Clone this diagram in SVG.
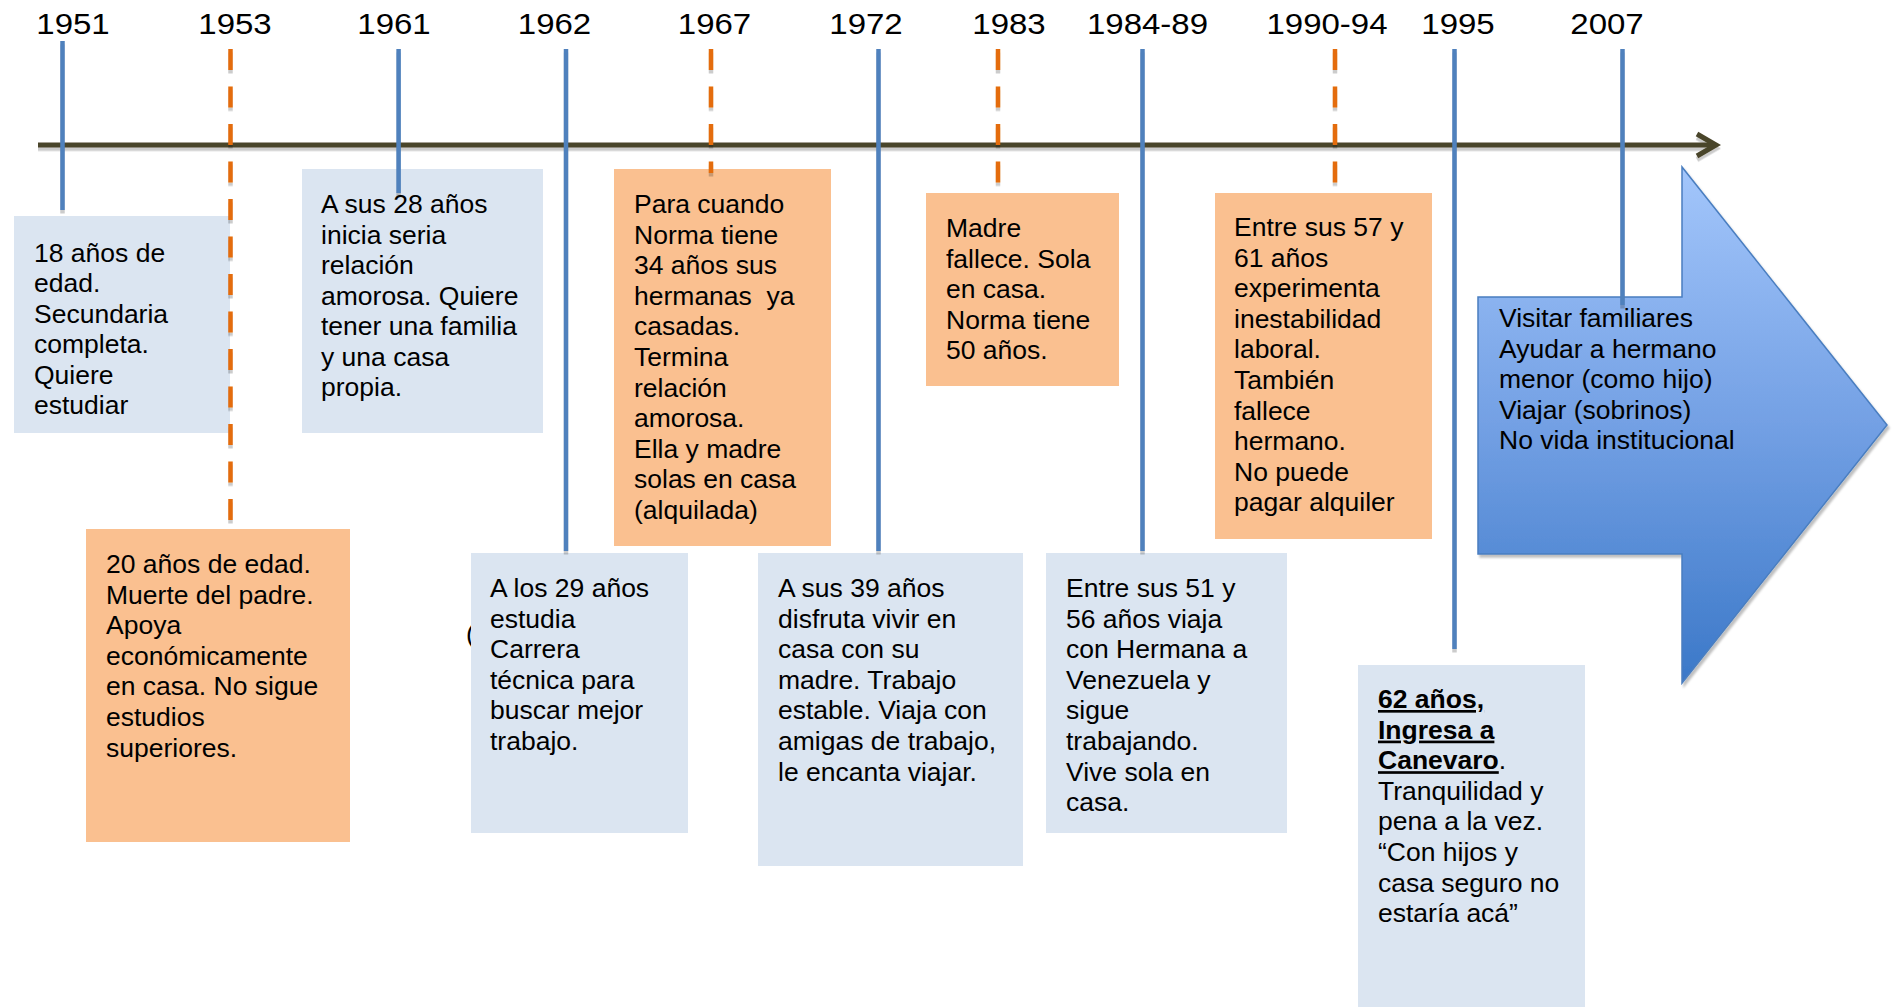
<svg xmlns="http://www.w3.org/2000/svg" width="1892" height="1007" viewBox="0 0 1892 1007">
<style>
.t{font-family:"Liberation Sans",Arial,sans-serif;font-size:26.5px;fill:#000}
.yr{font-family:"Liberation Sans",Arial,sans-serif;font-size:30px;fill:#000;text-anchor:middle}
.bb{fill:#DBE5F1}
.ob{fill:#FAC090}
.vb{stroke:#4F81BD;stroke-width:4.5;fill:none}
.vo{stroke:#E46C0A;stroke-width:4.5;stroke-dasharray:21 16.5;fill:none}
.b{font-weight:bold;text-decoration:underline}
</style>
<defs>
<filter id="sh" filterUnits="userSpaceOnUse" x="0" y="0" width="1892" height="1007">
<feDropShadow dx="0" dy="3.5" stdDeviation="0.6" flood-color="#000" flood-opacity="0.2"/>
</filter>
<filter id="ash" filterUnits="userSpaceOnUse" x="0" y="0" width="1892" height="1007">
<feDropShadow dx="2" dy="3" stdDeviation="1" flood-color="#000" flood-opacity="0.25"/>
</filter>
<linearGradient id="ag" x1="0" y1="167" x2="0" y2="683" gradientUnits="userSpaceOnUse">
<stop offset="0" stop-color="#A3C6FB"/>
<stop offset="0.5" stop-color="#73A0E4"/>
<stop offset="1" stop-color="#3B78C8"/>
</linearGradient>
</defs>
<rect width="1892" height="1007" fill="#fff"/>

<g id="years">
<text class="yr" transform="translate(73,34) scale(1.1,1)">1951</text>
<text class="yr" transform="translate(235,34) scale(1.1,1)">1953</text>
<text class="yr" transform="translate(394,34) scale(1.1,1)">1961</text>
<text class="yr" transform="translate(554.5,34) scale(1.1,1)">1962</text>
<text class="yr" transform="translate(714.5,34) scale(1.1,1)">1967</text>
<text class="yr" transform="translate(866,34) scale(1.1,1)">1972</text>
<text class="yr" transform="translate(1009,34) scale(1.1,1)">1983</text>
<text class="yr" transform="translate(1147.5,34) scale(1.1,1)">1984-89</text>
<text class="yr" transform="translate(1327,34) scale(1.1,1)">1990-94</text>
<text class="yr" transform="translate(1458,34) scale(1.1,1)">1995</text>
<text class="yr" transform="translate(1607,34) scale(1.1,1)">2007</text>
</g>

<g id="axis" filter="url(#sh)">
<line x1="38" y1="145" x2="1714" y2="145" stroke="#4A452A" stroke-width="5"/>
<polyline points="1697,134 1716,145 1697,156" fill="none" stroke="#4A452A" stroke-width="5" stroke-linejoin="miter"/>
</g>

<g id="future">
<polygon points="1478,297 1682,297 1682,167 1887,425 1682,683 1682,554 1478,554" fill="url(#ag)" stroke="#4A7EC0" stroke-width="1.5" filter="url(#ash)"/>
<text class="t"><tspan x="1499" y="327">Visitar familiares</tspan><tspan x="1499" dy="30.6">Ayudar a hermano</tspan><tspan x="1499" dy="30.6">menor (como hijo)</tspan><tspan x="1499" dy="30.6">Viajar (sobrinos)</tspan><tspan x="1499" dy="30.6">No vida institucional</tspan></text>
</g>

<g id="n1951">
<rect class="bb" x="14" y="216" width="216" height="217"/>
<text class="t"><tspan x="34" y="262">18 años de</tspan><tspan x="34" dy="30.4">edad.</tspan><tspan x="34" dy="30.4">Secundaria</tspan><tspan x="34" dy="30.4">completa.</tspan><tspan x="34" dy="30.4">Quiere</tspan><tspan x="34" dy="30.4">estudiar</tspan></text>
</g>

<g id="n1961">
<rect class="bb" x="302" y="169" width="241" height="264"/>
<text class="t"><tspan x="321" y="213">A sus 28 años</tspan><tspan x="321" dy="30.5">inicia seria</tspan><tspan x="321" dy="30.5">relación</tspan><tspan x="321" dy="30.5">amorosa. Quiere</tspan><tspan x="321" dy="30.5">tener una familia</tspan><tspan x="321" dy="30.5">y una casa</tspan><tspan x="321" dy="30.5">propia.</tspan></text>
</g>

<g id="n1953">
<rect class="ob" x="86" y="529" width="264" height="313"/>
<text class="t"><tspan x="106" y="573">20 años de edad.</tspan><tspan x="106" dy="30.6">Muerte del padre.</tspan><tspan x="106" dy="30.6">Apoya</tspan><tspan x="106" dy="30.6">económicamente</tspan><tspan x="106" dy="30.6">en casa. No sigue</tspan><tspan x="106" dy="30.6">estudios</tspan><tspan x="106" dy="30.6">superiores.</tspan></text>
</g>

<g id="n1962">
<text class="t" x="466" y="643">(</text>
<rect class="bb" x="471" y="553" width="217" height="280"/>
<text class="t"><tspan x="490" y="597">A los 29 años</tspan><tspan x="490" dy="30.6">estudia</tspan><tspan x="490" dy="30.6">Carrera</tspan><tspan x="490" dy="30.6">técnica para</tspan><tspan x="490" dy="30.6">buscar mejor</tspan><tspan x="490" dy="30.6">trabajo.</tspan></text>
</g>

<g id="n1967">
<rect class="ob" x="614" y="169" width="217" height="377"/>
<text class="t" xml:space="preserve"><tspan x="634" y="213">Para cuando</tspan><tspan x="634" dy="30.6">Norma tiene</tspan><tspan x="634" dy="30.6">34 años sus</tspan><tspan x="634" dy="30.6">hermanas  ya</tspan><tspan x="634" dy="30.6">casadas.</tspan><tspan x="634" dy="30.6">Termina</tspan><tspan x="634" dy="30.6">relación</tspan><tspan x="634" dy="30.6">amorosa.</tspan><tspan x="634" dy="30.6">Ella y madre</tspan><tspan x="634" dy="30.6">solas en casa</tspan><tspan x="634" dy="30.6">(alquilada)</tspan></text>
</g>

<g id="n1972">
<rect class="bb" x="758" y="553" width="265" height="313"/>
<text class="t"><tspan x="778" y="597">A sus 39 años</tspan><tspan x="778" dy="30.6">disfruta vivir en</tspan><tspan x="778" dy="30.6">casa con su</tspan><tspan x="778" dy="30.6">madre. Trabajo</tspan><tspan x="778" dy="30.6">estable. Viaja con</tspan><tspan x="778" dy="30.6">amigas de trabajo,</tspan><tspan x="778" dy="30.6">le encanta viajar.</tspan></text>
</g>

<g id="n1983">
<rect class="ob" x="926" y="193" width="193" height="193"/>
<text class="t"><tspan x="946" y="237">Madre</tspan><tspan x="946" dy="30.6">fallece. Sola</tspan><tspan x="946" dy="30.6">en casa.</tspan><tspan x="946" dy="30.6">Norma tiene</tspan><tspan x="946" dy="30.6">50 años.</tspan></text>
</g>

<g id="n1984">
<rect class="bb" x="1046" y="553" width="241" height="280"/>
<text class="t"><tspan x="1066" y="597">Entre sus 51 y</tspan><tspan x="1066" dy="30.6">56 años viaja</tspan><tspan x="1066" dy="30.6">con Hermana a</tspan><tspan x="1066" dy="30.6">Venezuela y</tspan><tspan x="1066" dy="30.6">sigue</tspan><tspan x="1066" dy="30.6">trabajando.</tspan><tspan x="1066" dy="30.6">Vive sola en</tspan><tspan x="1066" dy="30.6">casa.</tspan></text>
</g>

<g id="n1990">
<rect class="ob" x="1215" y="193" width="217" height="346"/>
<text class="t"><tspan x="1234" y="236">Entre sus 57 y</tspan><tspan x="1234" dy="30.6">61 años</tspan><tspan x="1234" dy="30.6">experimenta</tspan><tspan x="1234" dy="30.6">inestabilidad</tspan><tspan x="1234" dy="30.6">laboral.</tspan><tspan x="1234" dy="30.6">También</tspan><tspan x="1234" dy="30.6">fallece</tspan><tspan x="1234" dy="30.6">hermano.</tspan><tspan x="1234" dy="30.6">No puede</tspan><tspan x="1234" dy="30.6">pagar alquiler</tspan></text>
</g>

<g id="n1995">
<rect class="bb" x="1358" y="665" width="227" height="342"/>
<text class="t"><tspan x="1378" y="708" class="b">62 años,</tspan><tspan x="1378" dy="30.6" class="b">Ingresa a</tspan><tspan x="1378" dy="30.6" class="b">Canevaro</tspan><tspan>.</tspan><tspan x="1378" dy="30.6">Tranquilidad y</tspan><tspan x="1378" dy="30.6">pena a la vez.</tspan><tspan x="1378" dy="30.6">“Con hijos y</tspan><tspan x="1378" dy="30.6">casa seguro no</tspan><tspan x="1378" dy="30.6">estaría acá”</tspan></text>
</g>

<g id="connectors" filter="url(#sh)">
<line class="vb" x1="62.5" y1="41" x2="62.5" y2="210"/>
<line class="vo" x1="230.5" y1="49" x2="230.5" y2="521"/>
<line class="vb" x1="398.6" y1="49" x2="398.6" y2="193"/>
<line class="vb" x1="566" y1="49" x2="566" y2="551"/>
<line class="vo" x1="711" y1="49" x2="711" y2="173"/>
<line class="vb" x1="878.5" y1="49" x2="878.5" y2="551"/>
<line class="vo" x1="998" y1="49" x2="998" y2="183"/>
<line class="vb" x1="1142.5" y1="49" x2="1142.5" y2="551"/>
<line class="vo" x1="1335" y1="49" x2="1335" y2="183"/>
<line class="vb" x1="1454.5" y1="49" x2="1454.5" y2="649"/>
<line class="vb" x1="1622.5" y1="49" x2="1622.5" y2="305"/>
</g>
</svg>
